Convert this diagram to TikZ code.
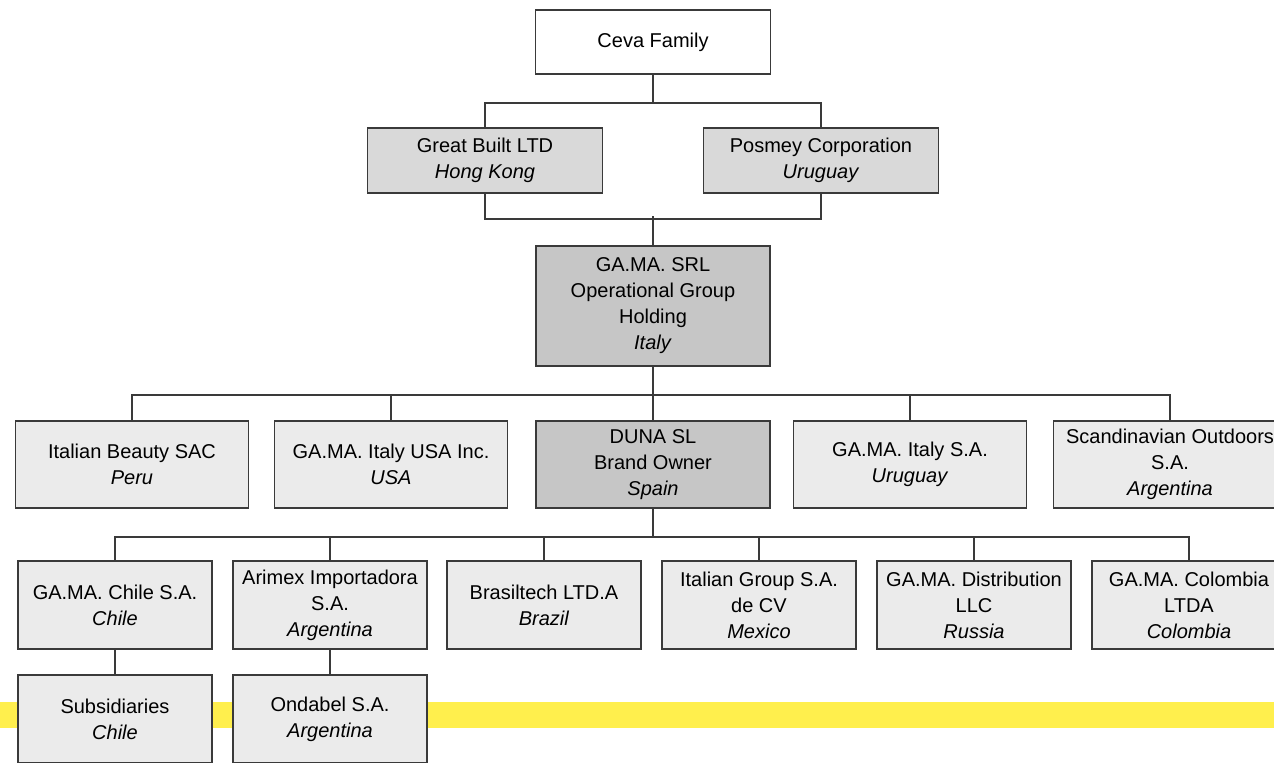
\documentclass[tikz,border=0pt]{standalone}
\usepackage{fontspec}
\setmainfont{Liberation Sans}
\usepackage{tikz}
\usetikzlibrary{positioning}
\definecolor{boxline}{HTML}{3A3A3A}
\definecolor{holdgray}{HTML}{D9D9D9}
\definecolor{groupgray}{HTML}{C6C6C6}
\definecolor{leafgray}{HTML}{EBEBEB}
\definecolor{bandyellow}{HTML}{FFEF4D}
\tikzstyle{unit}=[draw=boxline,line width=0.75pt,align=center,inner sep=0pt,font=\fontsize{10}{13}\selectfont]
\tikzstyle{family}=[unit,fill=white,minimum width=117.5pt,minimum height=32pt]
\tikzstyle{holder}=[unit,fill=holdgray,minimum width=117.5pt,minimum height=32.5pt]
\tikzstyle{group}=[unit,fill=groupgray,minimum width=117pt]
\tikzstyle{branch}=[unit,fill=leafgray,minimum width=116.5pt,minimum height=43.5pt]
\tikzstyle{local}=[unit,fill=leafgray,minimum width=97pt,minimum height=44pt]
\tikzstyle{link}=[draw=boxline,line width=0.75pt]

\begin{document}
\begin{tikzpicture}[x=0.5pt,y=-0.5pt]
\useasboundingbox (0,0) rectangle (1274,762);
\clip (0,0) rectangle (1274,762);
% band behind the lowest row
\fill[bandyellow] (0,702) rectangle (1274,728);

\node[family] (ceva) at (653,42) {Ceva Family};
\node[holder] (gb) at (485,160.5) {Great Built LTD\\\textit{Hong Kong}};
\node[holder] (pc) at (821,160.5) {Posmey Corporation\\\textit{Uruguay}};
\node[group,minimum height=60pt] (srl) at (653,306) {GA.MA. SRL\\Operational Group\\Holding\\\textit{Italy}};

\node[branch] (ib) at (132,464.5) {Italian Beauty SAC\\\textit{Peru}};
\node[branch] (usa) at (391,464.5) {GA.MA. Italy USA Inc.\\\textit{USA}};
\node[group,minimum height=43.5pt] (duna) at (653,464.5) {DUNA SL\\Brand Owner\\\textit{Spain}};
\node[branch] (ury) at (910,464.5) {GA.MA. Italy S.A.\\\textit{Uruguay}};
\node[branch] (scan) at (1170,464.5) {Scandinavian Outdoors\\S.A.\\\textit{Argentina}};

\node[local] (chl) at (115,605) {GA.MA. Chile S.A.\\\textit{Chile}};
\node[local] (arx) at (330,605) {Arimex Importadora\\S.A.\\\textit{Argentina}};
\node[local] (bra) at (544,605) {Brasiltech LTD.A\\\textit{Brazil}};
\node[local] (mex) at (759,605) {Italian Group S.A.\\de CV\\\textit{Mexico}};
\node[local] (rus) at (974,605) {GA.MA. Distribution\\LLC\\\textit{Russia}};
\node[local] (col) at (1189,605) {GA.MA. Colombia\\LTDA\\\textit{Colombia}};

\node[local] (sub) at (115,719) {Subsidiaries\\\textit{Chile}};
\node[local] (ond) at (330,719) {Ondabel S.A.\\\textit{Argentina}};

% connectors
\draw[link] (ceva.south) -- ++(0,28) -| (gb.north);
\draw[link] (ceva.south) -- ++(0,28) -| (pc.north);
\draw[link] (gb.south) -- ++(0,25) -| (pc.south);
\draw[link] (srl.north) -- ++(0,-29);
\foreach \n in {ib,usa,duna,ury,scan}
  \draw[link] (srl.south) -- ++(0,28) -| (\n.north);
\foreach \n in {chl,arx,bra,mex,rus,col}
  \draw[link] (duna.south) -- ++(0,28) -| (\n.north);
\draw[link] (chl) -- (sub);
\draw[link] (arx) -- (ond);
\end{tikzpicture}
\end{document}
